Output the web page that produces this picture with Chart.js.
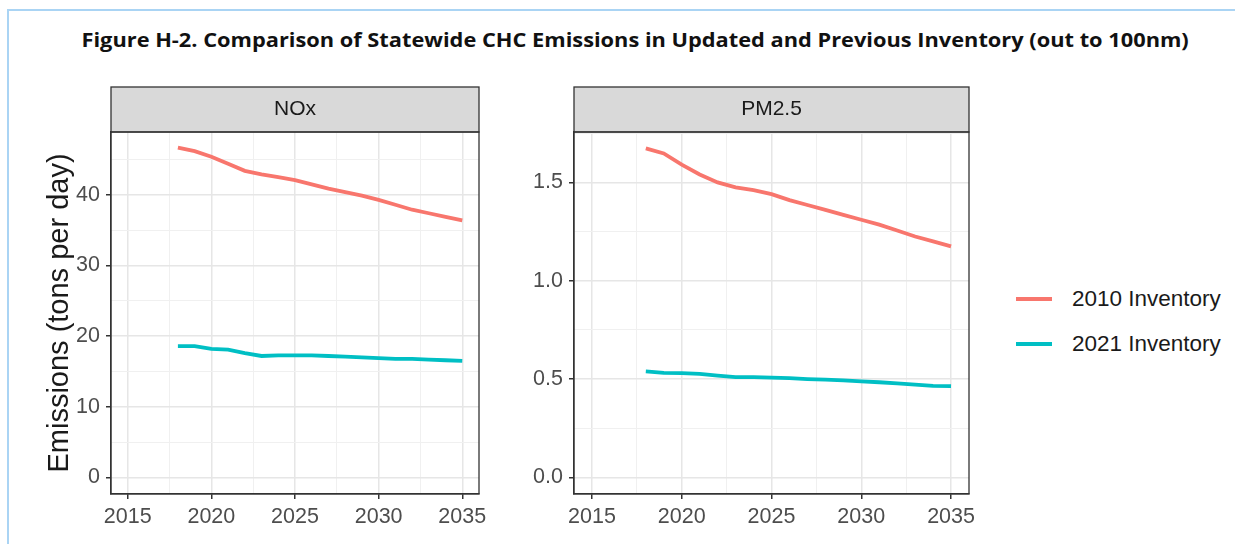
<!DOCTYPE html>
<html>
<head>
<meta charset="utf-8">
<script src="https://cdn.jsdelivr.net/npm/chart.js@4.4.0/dist/chart.umd.min.js"></script>
<style>
  body { margin: 0; background: #fff; width: 1235px; height: 544px; overflow: hidden; position: relative; font-family: "Liberation Sans", Arial, sans-serif; }
  #frame { position: absolute; left: 7px; top: 9px; width: 1300px; height: 600px; border-left: 2px solid #aad4f4; border-top: 2px solid #aad4f4; }
  #title { position: absolute; top: 26px; left: 18px; width: 1235px; text-align: center; white-space: nowrap; }
  #title span { display: inline-block; font: bold 20px "Open Sans", sans-serif; color: #111; transform-origin: center; }
  #c1 { position: absolute; left: 0; top: 0; }
  #c2 { position: absolute; left: 480px; top: 0; }
  #legend { position: absolute; left: 1016px; top: 276px; }
  .row { height: 45px; display: flex; align-items: center; }
  .key { width: 36px; height: 4px; margin-right: 20px; }
  .lab { font-size: 22.5px; color: #1a1a1a; }
</style>
</head>
<body>
<div id="frame"></div>
<div id="title"><span>Figure H-2. Comparison of Statewide CHC Emissions in Updated and Previous Inventory (out to 100nm)</span></div>
<canvas id="c1" width="540" height="544"></canvas>
<canvas id="c2" width="520" height="544"></canvas>
<div id="legend"></div>
<script>
const years = [2018, 2019, 2020, 2021, 2022, 2023, 2024, 2025, 2026, 2027, 2028, 2029, 2030, 2031, 2032, 2033, 2034, 2035];
const noxInv2010 = [46.7, 46.2, 45.4, 44.4, 43.4, 42.9, 42.5, 42.1, 41.5, 40.9, 40.4, 39.9, 39.3, 38.6, 37.9, 37.4, 36.9, 36.4];
const noxInv2021 = [18.6, 18.6, 18.2, 18.1, 17.6, 17.2, 17.3, 17.3, 17.3, 17.2, 17.1, 17.0, 16.9, 16.8, 16.8, 16.7, 16.6, 16.5];
const pmInv2010 = [1.673, 1.647, 1.59, 1.54, 1.50, 1.475, 1.46, 1.44, 1.41, 1.385, 1.36, 1.335, 1.31, 1.285, 1.255, 1.225, 1.20, 1.175];
const pmInv2021 = [0.539, 0.532, 0.530, 0.527, 0.518, 0.510, 0.510, 0.508, 0.505, 0.500, 0.497, 0.494, 0.488, 0.484, 0.478, 0.472, 0.466, 0.464];

const seriesNames = ['2010 Inventory', '2021 Inventory'];
const seriesColors = ['#F8766D', '#00BFC4'];

const xMajor = [2015, 2020, 2025, 2030, 2035];
const xMinor = [2017.5, 2022.5, 2027.5, 2032.5];
const noxMajor = [0, 10, 20, 30, 40];
const noxMinor = [5, 15, 25, 35, 45];
const pmMajor = [0, 0.5, 1.0, 1.5];
const pmMinor = [0.25, 0.75, 1.25, 1.75];

// title squeezed to the width of the original (Calibri is narrower)
const t = document.querySelector('#title span');
t.style.transform = 'scaleX(' + (1107 / t.offsetWidth) + ')';

// legend
const legend = document.getElementById('legend');
seriesNames.forEach((name, i) => {
  legend.innerHTML += '<div class="row"><div class="key" style="background:' + seriesColors[i] + '"></div><div class="lab">' + name + '</div></div>';
});

// strip on top + panel border, like ggplot theme_bw
const stripPlugin = {
  id: 'strip',
  afterDraw(chart, args, opts) {
    const { ctx, chartArea: a } = chart;
    ctx.save();
    ctx.fillStyle = '#d9d9d9';
    ctx.strokeStyle = '#333333';
    ctx.lineWidth = 1.3;
    ctx.fillRect(a.left, 87, a.right - a.left, a.top - 87);
    ctx.strokeRect(a.left, 87, a.right - a.left, a.top - 87);
    ctx.strokeRect(a.left, a.top, a.right - a.left, a.bottom - a.top);
    ctx.fillStyle = '#1a1a1a';
    ctx.font = '21px "Liberation Sans", Arial, sans-serif';
    ctx.textAlign = 'center';
    ctx.textBaseline = 'middle';
    ctx.fillText(opts.text, (a.left + a.right) / 2, (87 + a.top) / 2);
    ctx.restore();
  },
};

function tickSet(major, minor) {
  return major.concat(minor).sort((a, b) => a - b).map((v) => ({ value: v }));
}

function panel(id, name, s1, s2, yMin, yMax, yMajor, yMinor, fmt, yWidth, rightPad, yTitle) {
  const isMinorX = (v) => xMinor.includes(v);
  const isMinorY = (v) => yMinor.includes(v);
  new Chart(document.getElementById(id), {
    type: 'line',
    plugins: [stripPlugin],
    data: {
      datasets: [s1, s2].map((s, i) => ({
        label: seriesNames[i],
        data: years.map((y, j) => ({ x: y, y: s[j] })),
        borderColor: seriesColors[i],
        borderWidth: 3.8,
        pointRadius: 0,
        tension: 0,
      })),
    },
    options: {
      responsive: false,
      animation: false,
      layout: { padding: { top: 132, right: rightPad, left: 0, bottom: 0 } },
      plugins: {
        legend: { display: false },
        tooltip: { enabled: false },
        strip: { text: name },
      },
      scales: {
        x: {
          type: 'linear',
          min: 2014,
          max: 2036,
          afterBuildTicks: (s) => { s.ticks = tickSet(xMajor, xMinor); },
          afterFit: (s) => { s.height = 50; },
          border: { display: true, color: '#333333', width: 1.3 },
          grid: {
            color: (c) => (isMinorX(c.tick.value) ? '#f0f0f0' : '#e6e6e6'),
            lineWidth: (c) => (isMinorX(c.tick.value) ? 1 : 1.5),
            tickColor: (c) => (isMinorX(c.tick.value) ? 'rgba(0,0,0,0)' : '#333333'),
            tickLength: 5,
          },
          ticks: {
            autoSkip: false,
            maxRotation: 0,
            padding: 5,
            color: '#4d4d4d',
            font: { size: 21.5, family: '"Liberation Sans", Arial, sans-serif' },
            callback: (v) => (isMinorX(v) ? '' : String(v)),
          },
        },
        y: {
          min: yMin,
          max: yMax,
          afterBuildTicks: (s) => { s.ticks = tickSet(yMajor, yMinor); },
          afterFit: (s) => { s.width = yWidth; },
          border: { display: true, color: '#333333', width: 1.3 },
          grid: {
            color: (c) => (isMinorY(c.tick.value) ? '#f0f0f0' : '#e6e6e6'),
            lineWidth: (c) => (isMinorY(c.tick.value) ? 1 : 1.5),
            tickColor: (c) => (isMinorY(c.tick.value) ? 'rgba(0,0,0,0)' : '#333333'),
            tickLength: 5,
          },
          ticks: {
            autoSkip: false,
            padding: 6,
            color: '#4d4d4d',
            font: { size: 21.5, family: '"Liberation Sans", Arial, sans-serif' },
            callback: (v) => (isMinorY(v) ? '' : fmt(v)),
          },
          title: {
            display: !!yTitle,
            text: yTitle || '',
            color: '#1a1a1a',
            font: { size: 29, family: '"Liberation Sans", Arial, sans-serif' },
            padding: { top: 43, bottom: 0 },
          },
        },
      },
    },
  });
}

panel('c1', 'NOx', noxInv2010, noxInv2021, -2.33, 48.9, noxMajor, noxMinor, (v) => String(v), 111, 61, 'Emissions (tons per day)');
panel('c2', 'PM2.5', pmInv2010, pmInv2021, -0.084, 1.756, pmMajor, pmMinor, (v) => v.toFixed(1), 94, 31, null);
</script>
</body>
</html>
